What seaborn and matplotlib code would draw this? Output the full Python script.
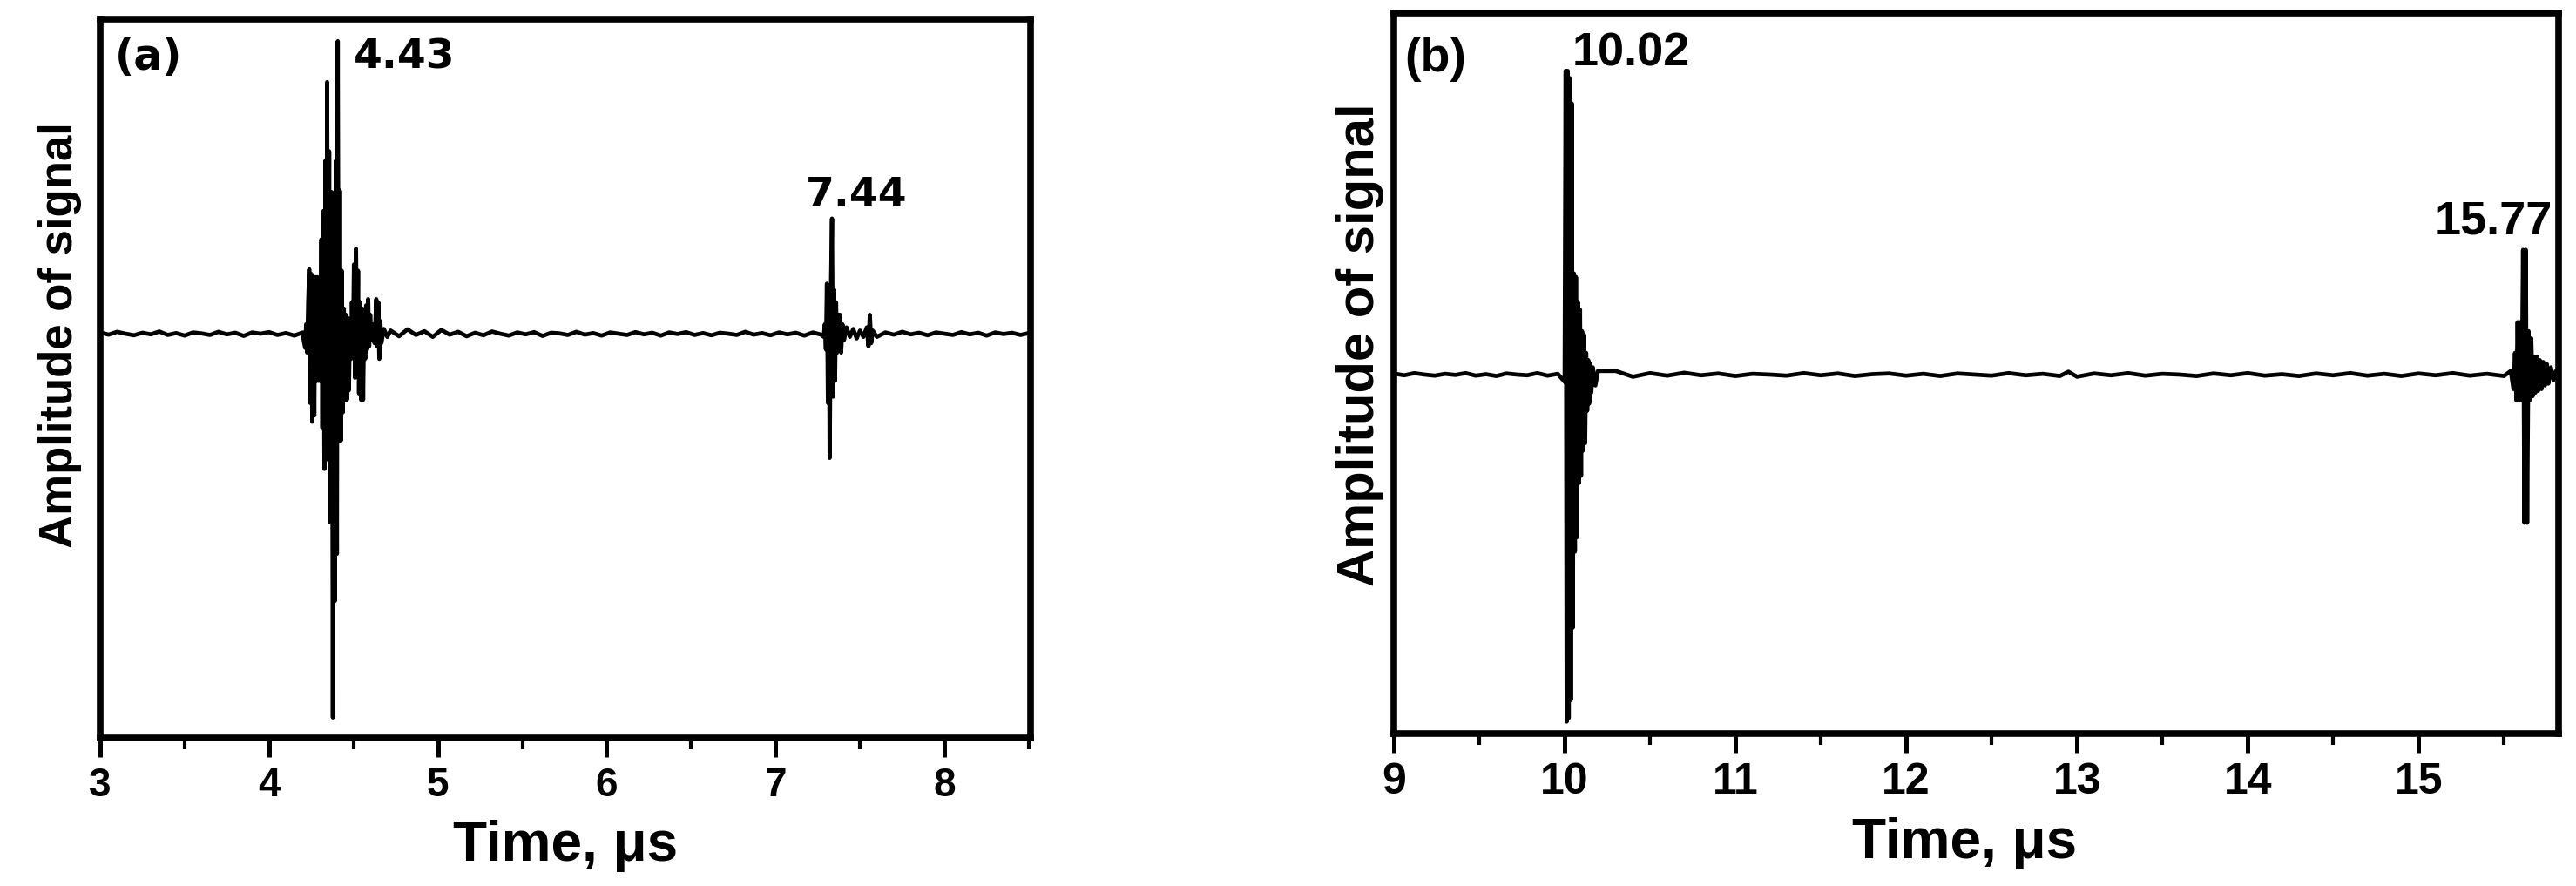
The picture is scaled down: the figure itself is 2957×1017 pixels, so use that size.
import numpy as np
import pandas as pd
import matplotlib
matplotlib.use("Agg")
import matplotlib.pyplot as plt
import seaborn as sns

# ---------------- data ----------------
# Panel (a): time (us) and normalised amplitude
time_a = [
    3.00, 3.05, 3.10, 3.15, 3.20, 3.25, 3.30, 3.35, 3.40, 3.45, 3.50, 3.55, 3.60,
    3.65, 3.70, 3.75, 3.80, 3.85, 3.90, 3.95, 4.00, 4.05, 4.10, 4.15, 4.20,
    4.205, 4.214, 4.220, 4.226, 4.232, 4.238, 4.244, 4.250, 4.256, 4.262, 4.268,
    4.274, 4.280, 4.286, 4.292, 4.298, 4.304, 4.310, 4.316, 4.322, 4.328, 4.334,
    4.340, 4.344, 4.350, 4.356, 4.362, 4.368, 4.372, 4.378, 4.384, 4.390, 4.396,
    4.402, 4.407, 4.413, 4.419, 4.425, 4.431, 4.437, 4.443, 4.449, 4.455, 4.461,
    4.467, 4.473, 4.479, 4.485, 4.491, 4.497, 4.503, 4.509, 4.515, 4.521, 4.527,
    4.533, 4.539, 4.545, 4.551, 4.557, 4.563, 4.569, 4.575, 4.581, 4.587, 4.593,
    4.599, 4.605, 4.615, 4.625, 4.635, 4.641, 4.647, 4.653, 4.659, 4.665, 4.680,
    4.700,
    4.72, 4.77, 4.82, 4.87, 4.92, 4.97, 5.02, 5.07, 5.12, 5.17, 5.22, 5.27, 5.32,
    5.37, 5.42, 5.47, 5.52, 5.57, 5.62, 5.67, 5.72, 5.77, 5.82, 5.87, 5.92, 5.97,
    6.02, 6.07, 6.12, 6.17, 6.22, 6.27, 6.32, 6.37, 6.42, 6.47, 6.52, 6.57, 6.62,
    6.67, 6.72, 6.77, 6.82, 6.87, 6.92, 6.97, 7.02, 7.07, 7.12, 7.17, 7.22, 7.27,
    7.285, 7.292, 7.298, 7.304, 7.310, 7.316, 7.320, 7.328, 7.334, 7.340, 7.346,
    7.352, 7.358, 7.364, 7.370, 7.376, 7.382, 7.388, 7.396, 7.405, 7.420, 7.440,
    7.460, 7.480, 7.500, 7.520, 7.540, 7.550, 7.558, 7.566, 7.575, 7.600,
    7.65, 7.70, 7.75, 7.80, 7.85, 7.90, 7.95, 8.00, 8.05, 8.10, 8.15, 8.20, 8.25,
    8.30, 8.35, 8.40, 8.45, 8.50,
]
amp_a = [
    0.004, -0.003, 0.006, 0.000, -0.005, 0.003, -0.002, 0.007, -0.004, 0.002,
    -0.006, 0.004, 0.001, -0.004, 0.006, -0.002, 0.003, -0.007, 0.004, 0.000,
    0.005, -0.004, 0.002, -0.006, 0.004,
    -0.020, -0.045, 0.030, -0.060, 0.100, 0.205, -0.220, 0.190, -0.280, 0.170,
    -0.260, 0.180, -0.150, 0.180, -0.150, 0.120, -0.150, 0.300, -0.300, 0.390,
    -0.430, 0.550, -0.400, 0.800, -0.350, 0.580, -0.600, 0.450, 0.450, -1.220,
    0.350, -0.850, 0.550, -0.700, 0.930, -0.340, 0.455, -0.340, 0.200, -0.250,
    0.080, -0.210, 0.060, -0.210, 0.050, -0.180, 0.040, -0.080, 0.100, -0.050,
    0.220, -0.140, 0.270, -0.100, 0.200, -0.190, 0.100, -0.210, 0.080, -0.210,
    0.050, -0.080, 0.090, -0.050, 0.110, -0.040, 0.060, -0.020, 0.030, -0.030,
    0.110, -0.040, 0.100, -0.080, 0.040, -0.030, 0.015, -0.010,
    0.010, -0.008, 0.014, -0.004, 0.008, -0.010, 0.012, -0.003, 0.006, -0.008,
    0.003, -0.005, 0.007, 0.000, -0.006, 0.004, -0.002, 0.005, -0.007, 0.003,
    0.001, -0.004, 0.006, -0.003, 0.002, -0.006, 0.004, 0.000, -0.004, 0.005,
    -0.002, 0.003, -0.006, 0.004, -0.001, 0.005, -0.004, 0.002, -0.005, 0.003,
    0.000, -0.004, 0.006, -0.003, 0.002, -0.005, 0.004, -0.002, 0.003, -0.006,
    0.004, -0.003,
    -0.010, 0.030, -0.050, 0.159, -0.220, 0.150, -0.395, 0.150, 0.366, -0.200,
    0.140, -0.150, 0.100, -0.060, 0.060, -0.050, 0.060, -0.060, 0.030, -0.020,
    0.020, -0.010, 0.015, -0.015, 0.010, -0.010, 0.020, -0.040, 0.060, -0.030,
    0.010, -0.010,
    0.004, -0.003, 0.006, -0.002, 0.003, -0.005, 0.004, 0.000, -0.004, 0.005,
    -0.002, 0.003, -0.006, 0.004, -0.001, 0.003, -0.004, 0.002,
]

# Panel (b)
time_b = [
    9.00, 9.06, 9.12, 9.18, 9.24, 9.30, 9.36, 9.42, 9.48, 9.54, 9.60, 9.66, 9.72,
    9.78, 9.84, 9.90, 9.96,
    10.000, 10.006, 10.012, 10.018, 10.024, 10.030, 10.036, 10.042, 10.048,
    10.054, 10.060, 10.066, 10.072, 10.078, 10.084, 10.090, 10.096, 10.102,
    10.108, 10.114, 10.120, 10.126, 10.132, 10.138, 10.144, 10.150, 10.156,
    10.165, 10.180, 10.195,
    10.3, 10.4, 10.5, 10.6, 10.7, 10.8, 10.9, 11.0, 11.1, 11.2, 11.3, 11.4, 11.5,
    11.6, 11.7, 11.8, 11.9, 12.0, 12.1, 12.2, 12.3, 12.4, 12.5, 12.6, 12.7, 12.8,
    12.9, 12.95, 13.0, 13.1, 13.2, 13.3, 13.4, 13.5, 13.6, 13.7, 13.8, 13.9, 14.0,
    14.1, 14.2, 14.3, 14.4, 14.5, 14.6, 14.7, 14.8, 14.9, 15.0, 15.1, 15.2, 15.3,
    15.4, 15.5,
    15.540, 15.556, 15.565, 15.573, 15.580, 15.588, 15.596, 15.604, 15.612,
    15.620, 15.628, 15.636, 15.644, 15.652, 15.660, 15.668, 15.676, 15.684,
    15.692, 15.700, 15.710, 15.720, 15.730, 15.740, 15.750, 15.760, 15.775,
    15.790, 15.805, 15.820,
]
amp_b = [
    0.003, -0.002, 0.004, 0.000, -0.003, 0.002, -0.001, 0.004, -0.003, 0.001,
    -0.004, 0.003, 0.000, -0.002, 0.004, -0.003, 0.002,
    -0.020, 0.840, -0.960, 0.840, -0.950, 0.820, -0.900, 0.750, -0.700, 0.280,
    -0.490, 0.270, -0.450, 0.200, -0.300, 0.180, -0.280, 0.120, -0.210, 0.110,
    -0.190, 0.060, -0.100, 0.040, -0.080, 0.030, -0.050, 0.020, -0.030, 0.010,
    0.010, -0.006, 0.004, -0.003, 0.005, -0.002, 0.003, -0.004, 0.002, 0.000,
    -0.003, 0.004, -0.002, 0.003, -0.004, 0.001, 0.003, -0.003, 0.002, -0.004,
    0.003, 0.000, -0.003, 0.004, -0.002, 0.002, -0.004,
    0.008,
    -0.006, 0.003, -0.002, 0.004, -0.003, 0.002, 0.000, -0.004, 0.003, -0.002,
    0.004, -0.003, 0.001, -0.004, 0.003, -0.002, 0.004, -0.003, 0.002, -0.004,
    0.003, -0.002, 0.004, -0.003, 0.002, -0.004,
    0.010, -0.040, 0.060, -0.072, 0.145, -0.070, 0.145, -0.070, 0.345, -0.410,
    0.345, -0.410, 0.120, -0.070, 0.100, -0.060, 0.050, -0.050, 0.050, -0.045,
    0.040, -0.040, 0.035, -0.030, 0.030, -0.025, 0.020, -0.015, 0.010, 0.000,
]

panel_labels = ["(a)", "(b)"]
peak_text_a = ["4.43", "7.44"]
peak_pos_a = [(4.80, 0.878), (7.478, 0.438)]
peak_text_b = ["10.02", "15.77"]
peak_pos_b = [(10.39, 0.887), (15.44, 0.424)]
xlabel_text = "Time, \u03bcs"
ylabel_text = "Amplitude of signal"

df_a = pd.DataFrame({"t": time_a, "amp": amp_a})
df_b = pd.DataFrame({"t": time_b, "amp": amp_b})

# ---------------- figure ----------------
sns.set_style("ticks")
plt.rcParams["font.family"] = ["Liberation Sans", "DejaVu Sans"]
plt.rcParams["text.color"] = "black"
plt.rcParams["axes.labelcolor"] = "black"
plt.rcParams["xtick.color"] = "black"
plt.rcParams["xtick.labelcolor"] = "black"

W, H = 2957, 1017
fig = plt.figure(figsize=(W / 100, H / 100), dpi=100)
ax_a = fig.add_axes([115 / W, 1 - 847 / H, (1183 - 115) / W, (847 - 22) / H])
ax_b = fig.add_axes([1600 / W, 1 - 842 / H, (2937 - 1600) / W, (842 - 15) / H])

line_kw = dict(color="black", linewidth=3.4, sort=False, estimator=None)
sns.lineplot(data=df_a, x="t", y="amp", ax=ax_a, **line_kw)
sns.lineplot(data=df_b, x="t", y="amp", ax=ax_b, **line_kw)

ax_a.set_xlim(3, 8.51)
ax_a.set_ylim(-1.285, 1.0)
ax_b.set_xlim(9, 15.82)
ax_b.set_ylim(-0.993, 1.0)

for ax, ticks, tsize, ysize, ycoords, xcx in [
    (ax_a, [3, 4, 5, 6, 7, 8], 33, 38, (-0.020, 0.56), 0.5),
    (ax_b, [9, 10, 11, 12, 13, 14, 15], 36, 43, (-0.008, 0.54), 0.49),
]:
    for sp in ax.spines.values():
        sp.set_visible(True)
        sp.set_linewidth(5.5)
        sp.set_color("black")
    ax.set_xticks(ticks)
    ax.set_xticks([t + 0.5 for t in ticks], minor=True)
    ax.set_yticks([])
    ax.tick_params(axis="x", which="major", direction="out", length=16,
                   width=3.6, labelsize=tsize, pad=8, color="black",
                   labelcolor="black")
    ax.tick_params(axis="x", which="minor", direction="out", length=9,
                   width=3.0, color="black")
    for lab in ax.get_xticklabels():
        lab.set_fontweight("bold")
    ax.set_xlabel(xlabel_text, fontsize=46, fontweight="bold", labelpad=12,
                  color="black")
    ax.xaxis.label.set_x(xcx)
    ax.set_ylabel(ylabel_text, fontsize=ysize, fontweight="bold",
                  color="black")
    ax.yaxis.set_label_coords(*ycoords)

ax_a.text(0.052, 0.947, panel_labels[0], transform=ax_a.transAxes, ha="center",
          va="center", fontsize=35, fontweight="bold", family="DejaVu Sans",
          color="black")
ax_b.text(0.036, 0.936, panel_labels[1], transform=ax_b.transAxes, ha="center",
          va="center", fontsize=40, fontweight="bold", color="black")

for txt, (x, y) in zip(peak_text_a, peak_pos_a):
    ax_a.text(x, y, txt, ha="center", va="center", fontsize=34,
              fontweight="bold", family="DejaVu Sans", color="black")
for txt, (x, y) in zip(peak_text_b, peak_pos_b):
    ax_b.text(x, y, txt, ha="center", va="center", fontsize=39,
              fontweight="bold", color="black")

fig.savefig("out.png", dpi=100, facecolor="white")
